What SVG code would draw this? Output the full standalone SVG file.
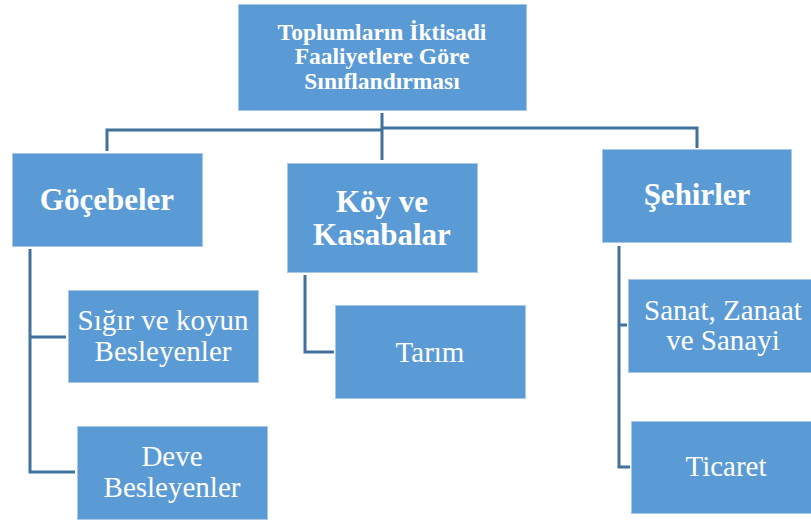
<svg xmlns="http://www.w3.org/2000/svg" width="811" height="522" viewBox="0 0 811 522">
<style>
.box{fill:#5B9BD5;stroke:#A9C8E8;stroke-width:1}
.t{fill:#fff;font-family:'Liberation Serif','Times New Roman',serif;text-anchor:middle}
.b{font-weight:bold}
.conn{fill:none;stroke:#41719C;stroke-width:3}
</style>
<rect width="811" height="522" fill="#fff"/>
<g id="connectors" class="conn">
<path d="M382,113 V160"/>
<path d="M107,151 V130 H382"/>
<path d="M382,128 H697 V148"/>
<path d="M30,249 V472 H75"/>
<path d="M30,337 H66"/>
<path d="M305,275 V352 H334"/>
<path d="M619,246 V467 H630"/>
<path d="M619,325 H627"/>
</g>
<g id="root">
<rect class="box" x="238.5" y="4.5" width="288" height="106"/>
<text class="t b" font-size="23.5" x="382" y="40">Toplumların İktisadi</text>
<text class="t b" font-size="23.5" x="382" y="64">Faaliyetlere Göre</text>
<text class="t b" font-size="23.5" x="382" y="89">Sınıflandırması</text>
</g>
<g id="gocebeler">
<rect class="box" x="12.5" y="153.5" width="190" height="93"/>
<text class="t b" font-size="31" x="107" y="210">Göçebeler</text>
</g>
<g id="koy">
<rect class="box" x="287.5" y="163.5" width="190" height="109"/>
<text class="t b" font-size="31" x="382" y="212">Köy ve</text>
<text class="t b" font-size="31" x="382" y="245">Kasabalar</text>
</g>
<g id="sehirler">
<rect class="box" x="602.5" y="149.5" width="189" height="93"/>
<text class="t b" font-size="31" x="697" y="205">Şehirler</text>
</g>
<g id="sigir">
<rect class="box" x="68.5" y="290.5" width="190" height="92"/>
<text class="t" font-size="29" x="163" y="330">Sığır ve koyun</text>
<text class="t" font-size="29" x="163" y="361">Besleyenler</text>
</g>
<g id="deve">
<rect class="box" x="77.5" y="426.5" width="190" height="93"/>
<text class="t" font-size="29" x="172" y="466">Deve</text>
<text class="t" font-size="29" x="172" y="497">Besleyenler</text>
</g>
<g id="tarim">
<rect class="box" x="335.5" y="305.5" width="190" height="93"/>
<text class="t" font-size="29" x="430" y="362">Tarım</text>
</g>
<g id="sanat">
<rect class="box" x="628.5" y="279.5" width="190" height="93"/>
<text class="t" font-size="29" x="723" y="320">Sanat, Zanaat</text>
<text class="t" font-size="29" x="723" y="350">ve Sanayi</text>
</g>
<g id="ticaret">
<rect class="box" x="631.5" y="421.5" width="190" height="92"/>
<text class="t" font-size="29" x="726" y="476">Ticaret</text>
</g>
</svg>
